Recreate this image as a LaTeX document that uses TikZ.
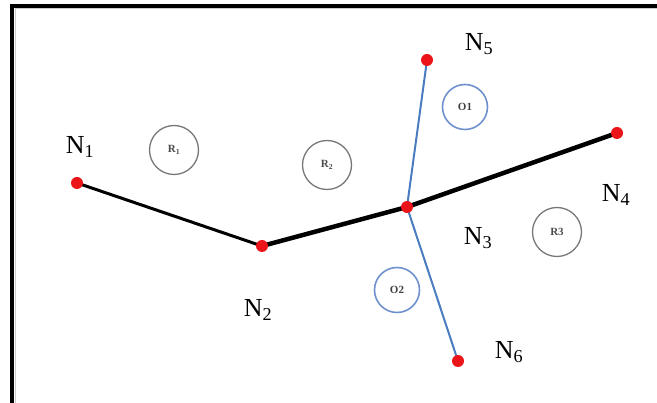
\documentclass[tikz,border=0pt]{standalone}
\usepackage{fontspec}
\setmainfont{Liberation Serif}
\usepackage{tikz}
\usetikzlibrary{positioning,backgrounds}
\definecolor{dotred}{RGB}{235,20,25}
\definecolor{linkblue}{RGB}{74,124,192}
\definecolor{ringblue}{RGB}{110,145,205}
\definecolor{ringgray}{RGB}{120,120,120}
\tikzset{
  site/.style={circle,fill=dotred,inner sep=0pt,minimum size=12pt},
  tag/.style={font=\fontsize{26}{28}\selectfont,text=black},
  road/.style={line width=4.5pt,black},
  branch/.style={line width=2pt,linkblue},
  region/.style={circle,draw=ringgray,line width=1.3pt,minimum size=49pt,inner sep=0pt,
    font=\fontsize{11}{12}\selectfont\bfseries,text=black!70},
  obstacle/.style={circle,draw=ringblue,line width=1.6pt,minimum size=45pt,inner sep=0pt,
    font=\fontsize{11}{12}\selectfont\bfseries,text=black!75}
}

\begin{document}
\begin{tikzpicture}[x=1pt,y=-1pt]
  \useasboundingbox (0,0) rectangle (657,403);
  % frame
  \draw[line width=4pt] (12,403) -- (12,6) -- (657,6);
  \draw[gray!40,line width=1pt] (15,403) -- (15,9) -- (657,9);
  % nodes
  \node[site] (n1) at (77,183) {};
  \node[site] (n2) at (262,246) {};
  \node[site] (n3) at (407,207) {};
  \node[site] (n4) at (617,133) {};
  \node[site] (n5) at (427,60) {};
  \node[site] (n6) at (458,361) {};
  % links
  \begin{scope}[on background layer]
    \draw[road,line width=3pt] (n1.center) -- (n2.center);
    \draw[road] (n2.center) -- (n3.center) -- (n4.center);
    \draw[branch] (n5.center) -- (n3.center) -- (n6.center);
  \end{scope}
  % labels
  \node[tag] (t1) at (80,147) {N\textsubscript{1}};
  \node[tag] (t2) at (258,310) {N\textsubscript{2}};
  \node[tag] (t3) at (478,238) {N\textsubscript{3}};
  \node[tag] (t4) at (616,195) {N\textsubscript{4}};
  \node[tag] (t5) at (479,44) {N\textsubscript{5}};
  \node[tag] (t6) at (509,352) {N\textsubscript{6}};
  % regions and obstacles
  \node[region] (r1) at (174,150) {R\textsubscript{1}};
  \node[region] (r2) at (327,165) {R\textsubscript{2}};
  \node[region] (r3) at (557,232) {R3};
  \node[obstacle] (o1) at (465,107) {O1};
  \node[obstacle] (o2) at (397,290) {O2};
\end{tikzpicture}
\end{document}
